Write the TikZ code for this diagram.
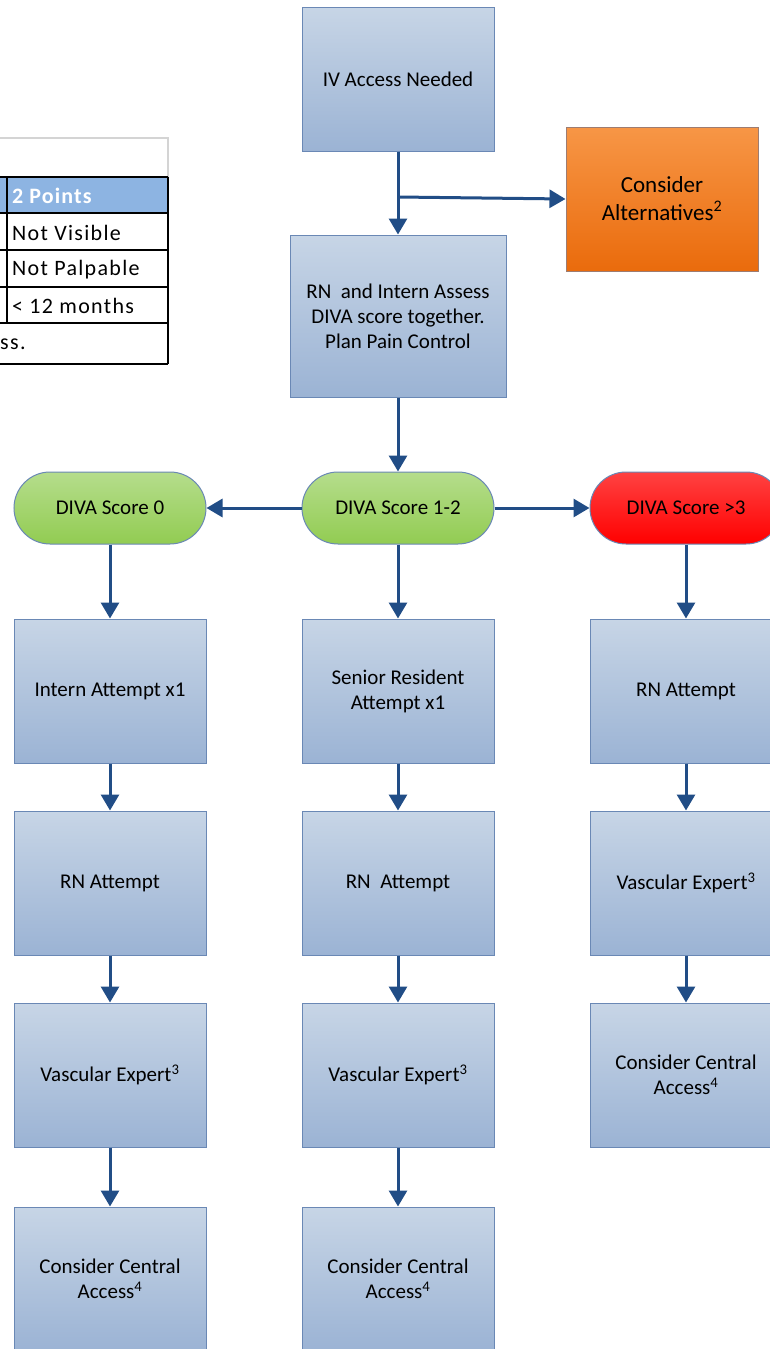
\documentclass[tikz,border=0pt]{standalone}
\usepackage{fontspec}
\setmainfont{Carlito}
\usetikzlibrary{arrows.meta}
\definecolor{boxtop}{HTML}{C7D5E6}
\definecolor{boxbot}{HTML}{9BB3D4}
\definecolor{boxline}{HTML}{6A88B5}
\definecolor{arrowc}{HTML}{214D86}
\definecolor{ortop}{HTML}{F79646}
\definecolor{orbot}{HTML}{EA6B0C}
\definecolor{grtop}{HTML}{B5DD8C}
\definecolor{grbot}{HTML}{92CC52}
\definecolor{rdtop}{HTML}{FF4242}
\definecolor{rdbot}{HTML}{FF0000}
\definecolor{hdrblue}{HTML}{8DB4E2}
\definecolor{tgray}{HTML}{D4D4D4}
\tikzset{
  flowbox/.style={draw=boxline, line width=1pt, shading=axis, top color=boxtop, bottom color=boxbot,
    minimum width=192pt, minimum height=144pt, inner sep=0pt, align=center,
    font=\fontsize{21}{25}\selectfont},
  altbox/.style={flowbox, draw=boxline!60!orbot, top color=ortop, bottom color=orbot,
    font=\fontsize{23}{28}\selectfont},
  oval/.style={draw=boxline, line width=1pt, shading=axis, rounded corners=36pt,
    minimum width=192pt, minimum height=72pt, inner sep=0pt, align=center,
    font=\fontsize{21}{25}\selectfont},
  green/.style={oval, top color=grtop, bottom color=grbot},
  red/.style={oval, top color=rdtop, bottom color=rdbot},
  conn/.style={draw=arrowc, line width=3pt, -{Triangle[length=16pt,width=18pt]}},
  tline/.style={line width=1.6pt, black},
  ttext/.style={anchor=west, inner sep=0pt, font=\fontsize{22}{25}\selectfont\addfontfeature{LetterSpace=6}},
}
\begin{document}
\begin{tikzpicture}[x=1pt,y=-1pt]
\clip (0,0) rectangle (770,1349);
\fill[white] (0,0) rectangle (770,1349);

% table
\draw[tgray, line width=1.5pt] (0,138) -- (168,138) -- (168,177);
\fill[hdrblue] (0,177) rectangle (168,213);
\foreach \yy in {177,213,250,287,323,364} \draw[tline] (0,\yy) -- (168,\yy);
\draw[tline] (168,177) -- (168,364);
\draw[tline] (7,177) -- (7,323);
\node[ttext, text=white, font=\fontsize{22}{25}\selectfont\bfseries\addfontfeature{LetterSpace=5}] (t0) at (12,196) {2 Points};
\node[ttext] (t1) at (12,233) {Not Visible};
\node[ttext] (t2) at (12,270) {Not Palpable};
\node[ttext] (t3) at (12,306) {< 12 months};
\node[ttext] (t4) at (0,344) {ss.};

% flow
\node[flowbox] (iv) at (398,79) {IV Access Needed};
\node[altbox] (alt) at (662,199) {Consider\\Alternatives\textsuperscript{2}};
\node[flowbox, minimum width=216pt, minimum height=162pt] (rn) at (398,316) {RN\ \ and Intern Assess\\DIVA score together.\\Plan Pain Control};

\node[green] (d0) at (110,508) {DIVA Score 0};
\node[green] (d12) at (398,508) {DIVA Score 1-2};
\node[red] (d3) at (686,508) {DIVA Score >3};

\node[flowbox] (a1) at (110,691) {Intern Attempt x1};
\node[flowbox] (b1) at (398,691) {Senior Resident\\Attempt x1};
\node[flowbox] (c1) at (686,691) {RN Attempt};

\node[flowbox] (a2) at (110,883) {RN Attempt};
\node[flowbox] (b2) at (398,883) {RN\ \ Attempt};
\node[flowbox] (c2) at (686,883) {Vascular Expert\textsuperscript{3}};

\node[flowbox] (a3) at (110,1075) {Vascular Expert\textsuperscript{3}};
\node[flowbox] (b3) at (398,1075) {Vascular Expert\textsuperscript{3}};
\node[flowbox] (c3) at (686,1075) {Consider Central\\Access\textsuperscript{4}};

\node[flowbox] (a4) at (110,1279) {Consider Central\\Access\textsuperscript{4}};
\node[flowbox] (b4) at (398,1279) {Consider Central\\Access\textsuperscript{4}};

\coordinate (br) at (398,197);
\draw[conn] (iv) -- (rn);
\draw[conn] (br) -- (alt.west);
\draw[conn] (rn) -- (d12);
\draw[conn] (d12) -- (d0);
\draw[conn] (d12) -- (d3);
\draw[conn] (d0) -- (a1);
\draw[conn] (d12) -- (b1);
\draw[conn] (d3) -- (c1);
\draw[conn] (a1) -- (a2);
\draw[conn] (b1) -- (b2);
\draw[conn] (c1) -- (c2);
\draw[conn] (a2) -- (a3);
\draw[conn] (b2) -- (b3);
\draw[conn] (c2) -- (c3);
\draw[conn] (a3) -- (a4);
\draw[conn] (b3) -- (b4);
\end{tikzpicture}
\end{document}
